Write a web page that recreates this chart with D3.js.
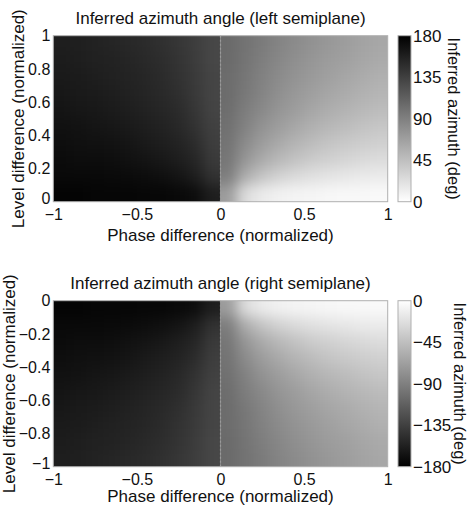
<!DOCTYPE html>
<html>
<head>
<meta charset="utf-8">
<script src="https://cdn.jsdelivr.net/npm/d3@7"></script>
<style>
  body { margin: 0; background: #fff; }
  text { font-family: "Liberation Sans", Arial, sans-serif; fill: #111; }
</style>
</head>
<body>
<svg id="chart" width="469" height="505"></svg>
<script>
// cell centres of the sampled grid (normalized units)
var phaseCenters = [-0.95, -0.85, -0.75, -0.65, -0.55, -0.45, -0.35, -0.25, -0.15, -0.05,
                    0.05, 0.15, 0.25, 0.35, 0.45, 0.55, 0.65, 0.75, 0.85, 0.95];
var levelCentersLeft = [0.95, 0.85, 0.75, 0.65, 0.55, 0.45, 0.35, 0.25, 0.15, 0.05];
var levelCentersRight = [-0.05, -0.15, -0.25, -0.35, -0.45, -0.55, -0.65, -0.75, -0.85, -0.95];

// inferred azimuth (deg), one row per level centre
var azimuthLeft = [
  [159, 158, 156, 154, 152, 150, 146, 142, 137, 130, 105, 99, 93, 87, 82, 77, 73, 69, 65, 62],
  [160, 159, 157, 156, 154, 151, 148, 143, 138, 130, 105, 98, 91, 85, 79, 74, 70, 67, 63, 60],
  [162, 161, 159, 157, 155, 153, 150, 145, 139, 131, 104, 97, 89, 82, 76, 71, 67, 63, 59, 56],
  [164, 162, 161, 159, 157, 154, 151, 147, 140, 131, 104, 95, 87, 79, 73, 68, 63, 59, 55, 52],
  [166, 164, 163, 161, 159, 156, 153, 150, 142, 132, 103, 92, 83, 75, 69, 63, 58, 54, 50, 47],
  [168, 167, 165, 164, 162, 159, 156, 152, 145, 134, 101, 88, 77, 69, 62, 56, 51, 47, 43, 40],
  [170, 169, 168, 167, 165, 162, 159, 155, 149, 136, 99, 82, 70, 61, 53, 47, 42, 38, 35, 33],
  [172, 171, 171, 170, 168, 166, 163, 159, 153, 139, 97, 74, 60, 50, 43, 37, 33, 30, 27, 25],
  [174, 174, 174, 173, 172, 171, 169, 166, 159, 145, 92, 58, 42, 32, 26, 22, 19, 17, 15, 14],
  [177, 177, 176, 176, 176, 175, 175, 174, 171, 159, 70, 25, 14, 10, 8, 7, 6, 5, 5, 4]
];
var azimuthRight = [
  [-177, -177, -176, -176, -176, -175, -175, -174, -171, -159, -70, -25, -14, -10, -8, -7, -6, -5, -5, -4],
  [-174, -174, -174, -173, -172, -171, -169, -166, -159, -145, -92, -58, -42, -32, -26, -22, -19, -17, -15, -14],
  [-172, -171, -171, -170, -168, -166, -163, -159, -153, -139, -97, -74, -60, -50, -43, -37, -33, -30, -27, -25],
  [-170, -169, -168, -167, -165, -162, -159, -155, -149, -136, -99, -82, -70, -61, -53, -47, -42, -38, -35, -33],
  [-168, -167, -165, -164, -162, -159, -156, -152, -145, -134, -101, -88, -77, -69, -62, -56, -51, -47, -43, -40],
  [-166, -164, -163, -161, -159, -156, -153, -150, -142, -132, -103, -92, -83, -75, -69, -63, -58, -54, -50, -47],
  [-164, -162, -161, -159, -157, -154, -151, -147, -140, -131, -104, -95, -87, -79, -73, -68, -63, -59, -55, -52],
  [-162, -161, -159, -157, -155, -153, -150, -145, -139, -131, -104, -97, -89, -82, -76, -71, -67, -63, -59, -56],
  [-160, -159, -157, -156, -154, -151, -148, -143, -138, -130, -105, -98, -91, -85, -79, -74, -70, -67, -63, -60],
  [-159, -158, -156, -154, -152, -150, -146, -142, -137, -130, -105, -99, -93, -87, -82, -77, -73, -69, -65, -62]
];

var phaseTicks = [-1, -0.5, 0, 0.5, 1];
var levelTicksLeft = [0, 0.2, 0.4, 0.6, 0.8, 1];
var levelTicksRight = [-1, -0.8, -0.6, -0.4, -0.2, 0];
var cbTicksLeft = [0, 45, 90, 135, 180];
var cbTicksRight = [-180, -135, -90, -45, 0];

var svg = d3.select("#chart");
var defs = svg.append("defs");

// blur in sRGB, otherwise the dark half gets banded
defs.append("filter")
  .attr("id", "soft")
  .attr("color-interpolation-filters", "sRGB")
  .attr("x", "-20%").attr("y", "-20%")
  .attr("width", "140%").attr("height", "140%")
  .append("feGaussianBlur")
  .attr("stdDeviation", 6.5);

var plotLeft = 53.3, plotRight = 387.7;
var cbLeft = 398, cbRight = 411;
var cellHalf = 0.05;
var pad = 20;

function drawPanel(cfg) {
  var x = d3.scaleLinear().domain([-1, 1]).range([plotLeft, plotRight]);
  var y = d3.scaleLinear().domain(cfg.levelDomain).range([cfg.bottom, cfg.top]);
  var color = d3.scaleLinear().domain(cfg.colorDomain).range(cfg.colorRange);
  var midX = x(0);
  var nRows = cfg.levels.length;

  // the two halves are smoothed separately to keep the jump at phase 0
  [[0, 10, plotLeft, midX], [10, 20, midX, plotRight]].forEach(function (half, h) {
    var clipId = cfg.id + "clip" + h;
    defs.append("clipPath").attr("id", clipId)
      .append("rect")
      .attr("x", half[2]).attr("y", cfg.top)
      .attr("width", half[3] - half[2]).attr("height", cfg.bottom - cfg.top);

    var cells = [];
    cfg.levels.forEach(function (lv, i) {
      for (var j = half[0]; j < half[1]; j++) {
        cells.push({ p: phaseCenters[j], l: lv, v: cfg.grid[i][j], i: i, j: j });
      }
    });

    svg.append("g").attr("clip-path", "url(#" + clipId + ")")
      .append("g").attr("filter", "url(#soft)")
      .selectAll("rect")
      .data(cells)
      .enter().append("rect")
      .attr("x", function (d) { return x(d.p - cellHalf) - (d.j === half[0] ? pad : 0) - 0.5; })
      .attr("width", function (d) {
        return x(d.p + cellHalf) - x(d.p - cellHalf) + 1 +
          (d.j === half[0] ? pad : 0) + (d.j === half[1] - 1 ? pad : 0);
      })
      .attr("y", function (d) {
        return Math.min(y(d.l + cellHalf), y(d.l - cellHalf)) - (d.i === 0 ? pad : 0) - 0.5;
      })
      .attr("height", function (d) {
        return Math.abs(y(d.l + cellHalf) - y(d.l - cellHalf)) + 1 +
          (d.i === 0 ? pad : 0) + (d.i === nRows - 1 ? pad : 0);
      })
      .attr("fill", function (d) { return color(d.v); });
  });

  // dotted line at zero phase
  svg.append("line")
    .attr("x1", midX).attr("x2", midX)
    .attr("y1", cfg.top).attr("y2", cfg.bottom)
    .attr("stroke", "#9a9a9a")
    .attr("stroke-width", 1.2)
    .attr("stroke-dasharray", "2,2");

  svg.append("rect")
    .attr("x", plotLeft).attr("y", cfg.top)
    .attr("width", plotRight - plotLeft).attr("height", cfg.bottom - cfg.top)
    .attr("fill", "none")
    .attr("stroke", "#b0b0b0")
    .attr("stroke-width", 1);

  var xAxis = svg.append("g")
    .attr("transform", "translate(0," + cfg.bottom + ")")
    .call(d3.axisBottom(x).tickValues(phaseTicks).tickSize(0).tickPadding(7).tickFormat(d3.format("")));
  var yAxis = svg.append("g")
    .attr("transform", "translate(" + plotLeft + ",0)")
    .call(d3.axisLeft(y).tickValues(cfg.levelTicks).tickSize(0).tickPadding(3).tickFormat(d3.format("")));
  [xAxis, yAxis].forEach(function (a) {
    a.select(".domain").remove();
    a.attr("font-family", null).attr("font-size", 16);
    a.selectAll("text").attr("fill", "#111");
  });
  // matlab puts the lowest level label just above the corner
  yAxis.selectAll(".tick text")
    .filter(function (d) { return d === cfg.levelDomain[0]; })
    .attr("dy", "0.1em");

  // colour bar
  var gradId = cfg.id + "grad";
  var grad = defs.append("linearGradient").attr("id", gradId)
    .attr("x1", 0).attr("x2", 0).attr("y1", 1).attr("y2", 0);
  cfg.cbTicks.forEach(function (t, k) {
    grad.append("stop")
      .attr("offset", k / (cfg.cbTicks.length - 1))
      .attr("stop-color", color(t));
  });
  svg.append("rect")
    .attr("x", cbLeft).attr("y", cfg.top)
    .attr("width", cbRight - cbLeft).attr("height", cfg.bottom - cfg.top)
    .attr("fill", "url(#" + gradId + ")")
    .attr("stroke", "#b0b0b0")
    .attr("stroke-width", 1);

  var cbScale = d3.scaleLinear().domain(cfg.colorDomain).range([cfg.bottom, cfg.top]);
  var cbAxis = svg.append("g")
    .attr("transform", "translate(" + cbRight + ",0)")
    .call(d3.axisRight(cbScale).tickValues(cfg.cbTicks).tickSize(0).tickPadding(2).tickFormat(d3.format("")));
  cbAxis.select(".domain").remove();
  cbAxis.attr("font-family", null).attr("font-size", 17);
  cbAxis.selectAll("text").attr("fill", "#111");

  var midY = (cfg.top + cfg.bottom) / 2;

  svg.append("text")
    .attr("x", (plotLeft + plotRight) / 2).attr("y", cfg.top - 12)
    .attr("text-anchor", "middle").attr("font-size", 17)
    .text(cfg.title);

  svg.append("text")
    .attr("x", (plotLeft + plotRight) / 2).attr("y", cfg.bottom + cfg.xLabelGap)
    .attr("text-anchor", "middle").attr("font-size", 17)
    .text("Phase difference (normalized)");

  svg.append("text")
    .attr("transform", "translate(" + cfg.yLabelX + "," + midY + ") rotate(-90)")
    .attr("text-anchor", "middle").attr("font-size", 17)
    .text("Level difference (normalized)");

  svg.append("text")
    .attr("transform", "translate(" + cfg.cbLabelX + "," + midY + ") rotate(90)")
    .attr("text-anchor", "middle").attr("font-size", 16.5)
    .text("Inferred azimuth (deg)");
}

drawPanel({
  id: "left",
  top: 35.7, bottom: 201.7,
  levelDomain: [0, 1],
  levels: levelCentersLeft,
  grid: azimuthLeft,
  levelTicks: levelTicksLeft,
  colorDomain: [0, 180],
  colorRange: ["#ffffff", "#000000"],
  cbTicks: cbTicksLeft,
  title: "Inferred azimuth angle (left semiplane)",
  xLabelGap: 39,
  yLabelX: 24,
  cbLabelX: 448
});

drawPanel({
  id: "right",
  top: 300.7, bottom: 466.7,
  levelDomain: [-1, 0],
  levels: levelCentersRight,
  grid: azimuthRight,
  levelTicks: levelTicksRight,
  colorDomain: [-180, 0],
  colorRange: ["#000000", "#ffffff"],
  cbTicks: cbTicksRight,
  title: "Inferred azimuth angle (right semiplane)",
  xLabelGap: 35,
  yLabelX: 15,
  cbLabelX: 454
});
</script>
</body>
</html>
